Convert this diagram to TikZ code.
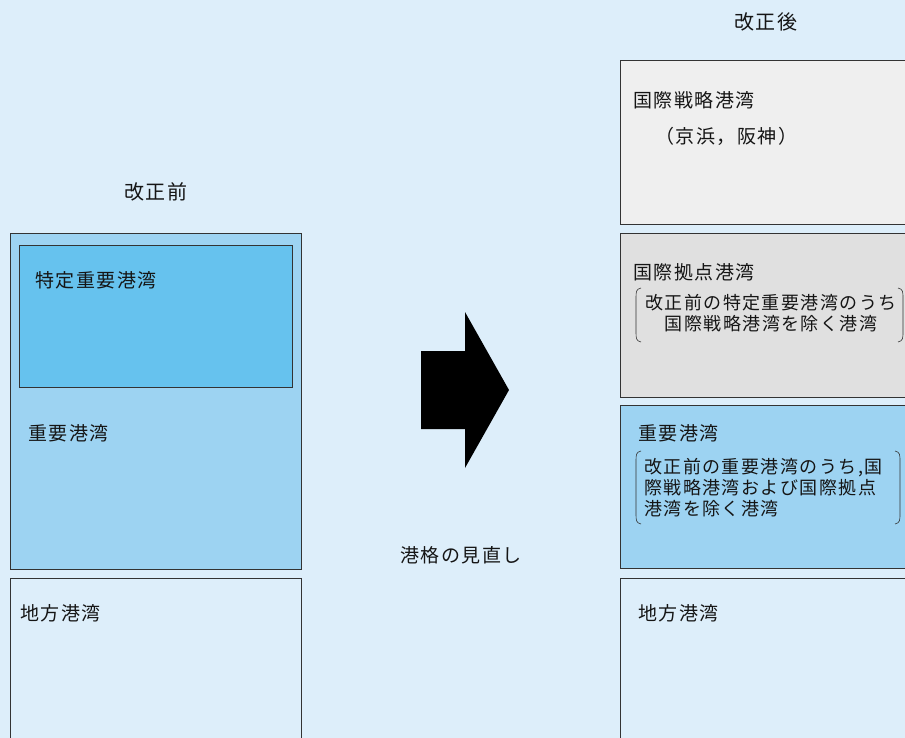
\documentclass[tikz,border=0pt]{standalone}
\usepackage{fontspec}
\setmainfont{Noto Sans CJK JP}
\newfontfamily\jpfont[LetterSpace=8]{Noto Sans CJK JP}
\definecolor{bgc}{HTML}{DDEEFA}
\definecolor{midblue}{HTML}{9DD3F2}
\definecolor{deepblue}{HTML}{66C2EE}
\definecolor{lgray}{HTML}{EFEFEF}
\definecolor{mgray}{HTML}{E0E0E0}
\definecolor{edgec}{HTML}{333333}
\definecolor{txt}{HTML}{151515}
\tikzset{
  box/.style={draw=edgec, line width=0.9pt, anchor=north west, inner sep=0pt},
  lab/.style={anchor=west, inner sep=0pt, text=txt, font=\jpfont\fontsize{19}{21}\selectfont},
  desc/.style={inner sep=0pt, text=txt, font=\jpfont\fontsize{18}{21}\selectfont},
  title/.style={inner sep=0pt, text=txt, font=\jpfont\fontsize{20}{22}\selectfont},
  paren/.style={draw=edgec, line width=0.6pt},
}
\begin{document}
\begin{tikzpicture}[x=1pt,y=-1pt]
\useasboundingbox (0,0) rectangle (905,738);
\clip (0,0) rectangle (905,738);
\fill[bgc] (0,0) rectangle (905,738);

% left column
\node[title] (tbefore) at (156,192) {改正前};
\node[box, fill=midblue, minimum width=291pt, minimum height=336pt] (juyoL) at (10,233) {};
\node[box, fill=deepblue, minimum width=273pt, minimum height=142pt] (tokutei) at (19,245) {};
\node[lab] (ltokutei) at (35,280) {特定重要港湾};
\node[lab] (ljuyoL) at (28,433) {重要港湾};
\node[box, fill=bgc, minimum width=291pt, minimum height=180pt] (chihoL) at (10,578) {};
\node[lab] (lchihoL) at (20,613) {地方港湾};

% arrow
\fill[black] (421,351) -- (465,351) -- (465,312) -- (509,390) -- (465,468) -- (465,429) -- (421,429) -- cycle;
\node[lab, anchor=center] (minaoshi) at (461,555) {港格の見直し};

% right column
\node[title] (tafter) at (766,22) {改正後};
\node[box, fill=lgray, minimum width=300pt, minimum height=164pt] (senryaku) at (620,60) {};
\node[lab] (lsenryaku) at (633,100) {国際戦略港湾};
\node[lab] (lkeihin) at (655,136) {（京浜，阪神）};

\node[box, fill=mgray, minimum width=300pt, minimum height=164pt] (kyoten) at (620,233) {};
\node[lab] (lkyoten) at (633,272) {国際拠点港湾};
\node[desc, align=center] (dkyoten) at (771,313) {改正前の特定重要港湾のうち\\国際戦略港湾を除く港湾};
\draw[paren] (641,288) .. controls (636,289) and (636,292) .. (636,298) -- (636,332) .. controls (636,338) and (636,341) .. (641,342);
\draw[paren] (898,288) .. controls (903,289) and (903,292) .. (903,298) -- (903,332) .. controls (903,338) and (903,341) .. (898,342);

\node[box, fill=midblue, minimum width=300pt, minimum height=163pt] (juyoR) at (620,405) {};
\node[lab] (ljuyoR) at (638,433) {重要港湾};
\node[desc, anchor=north west, align=left] (djuyo) at (644,458) {改正前の重要港湾のうち,国\\際戦略港湾および国際拠点\\港湾を除く港湾};
\draw[paren] (641,451) .. controls (636,452) and (636,455) .. (636,461) -- (636,514) .. controls (636,520) and (636,523) .. (641,524);
\draw[paren] (895,451) .. controls (900,452) and (900,455) .. (900,461) -- (900,514) .. controls (900,520) and (900,523) .. (895,524);

\node[box, fill=bgc, minimum width=300pt, minimum height=180pt] (chihoR) at (620,578) {};
\node[lab] (lchihoR) at (638,613) {地方港湾};
\end{tikzpicture}
\end{document}
